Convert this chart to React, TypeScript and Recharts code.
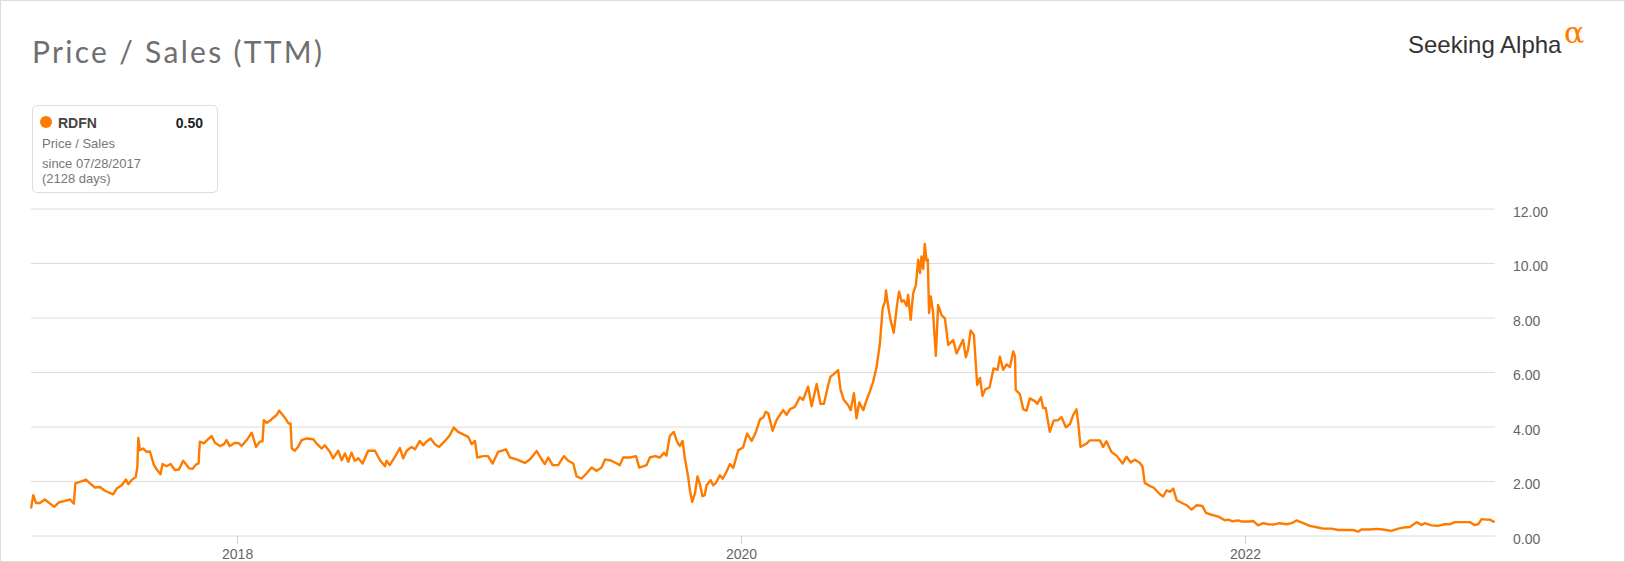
import { CartesianGrid, Line, LineChart, XAxis, YAxis } from "recharts";

const ORANGE = "#ff7b00";
const FONT = "'Liberation Sans', Arial, sans-serif";

// RDFN price / sales, [decimal year, ratio]
const ps2017: [number, number][] = [
  [2017.18, 1.01], [2017.189, 1.5], [2017.2, 1.21], [2017.215, 1.21], [2017.235, 1.34],
  [2017.255, 1.19], [2017.272, 1.07], [2017.292, 1.24], [2017.315, 1.29], [2017.335, 1.34],
  [2017.35, 1.19], [2017.356, 1.93], [2017.374, 1.99], [2017.398, 2.07], [2017.414, 1.93],
  [2017.434, 1.78], [2017.454, 1.8], [2017.473, 1.66], [2017.506, 1.53], [2017.52, 1.74],
  [2017.54, 1.86], [2017.557, 2.07], [2017.566, 1.9], [2017.579, 2.05], [2017.596, 2.17],
  [2017.602, 2.54], [2017.606, 3.6], [2017.612, 3.15], [2017.625, 3.21], [2017.639, 3.09],
  [2017.652, 3.1], [2017.668, 2.6], [2017.679, 2.44], [2017.694, 2.27], [2017.702, 2.64],
  [2017.718, 2.56], [2017.734, 2.64], [2017.751, 2.42], [2017.767, 2.44], [2017.784, 2.76],
  [2017.808, 2.48], [2017.821, 2.47], [2017.837, 2.64], [2017.845, 2.66], [2017.85, 3.46],
  [2017.866, 3.4], [2017.879, 3.52], [2017.897, 3.67], [2017.91, 3.42], [2017.93, 3.3],
  [2017.946, 3.37], [2017.956, 3.52], [2017.969, 3.3], [2017.989, 3.42],
];

const ps2018: [number, number][] = [
  [2018.006, 3.4], [2018.016, 3.3], [2018.036, 3.52], [2018.056, 3.79], [2018.073, 3.27],
  [2018.088, 3.46], [2018.099, 3.48], [2018.104, 4.25], [2018.115, 4.15], [2018.128, 4.23],
  [2018.139, 4.32], [2018.155, 4.44], [2018.165, 4.6], [2018.179, 4.44], [2018.192, 4.28],
  [2018.202, 4.13], [2018.21, 4.13], [2018.215, 3.21], [2018.227, 3.13], [2018.24, 3.27],
  [2018.254, 3.52], [2018.274, 3.58], [2018.3, 3.55], [2018.313, 3.4], [2018.333, 3.21],
  [2018.346, 3.33], [2018.366, 3.09], [2018.379, 2.85], [2018.399, 3.13], [2018.413, 2.78],
  [2018.426, 3.03], [2018.439, 2.72], [2018.452, 3.06], [2018.465, 2.76], [2018.479, 2.85],
  [2018.496, 2.66], [2018.518, 3.13], [2018.545, 3.13], [2018.565, 2.78], [2018.585, 2.56],
  [2018.591, 2.76], [2018.604, 2.6], [2018.624, 2.9], [2018.644, 3.23], [2018.657, 2.85],
  [2018.671, 3.13], [2018.69, 3.27], [2018.704, 3.18], [2018.723, 3.49], [2018.737, 3.33],
  [2018.75, 3.47], [2018.766, 3.58], [2018.783, 3.37], [2018.8, 3.27], [2018.823, 3.49],
  [2018.842, 3.7], [2018.858, 3.98], [2018.875, 3.82], [2018.895, 3.73], [2018.915, 3.64],
  [2018.929, 3.37], [2018.942, 3.49], [2018.951, 2.88], [2018.975, 2.93], [2018.994, 2.93],
];

const ps2019: [number, number][] = [
  [2019.012, 2.66], [2019.034, 3.09], [2019.065, 3.18], [2019.081, 2.88], [2019.107, 2.81],
  [2019.14, 2.68], [2019.16, 2.81], [2019.187, 3.12], [2019.202, 2.88], [2019.219, 2.64],
  [2019.233, 2.88], [2019.25, 2.6], [2019.272, 2.6], [2019.295, 2.93], [2019.312, 2.76],
  [2019.332, 2.66], [2019.345, 2.19], [2019.365, 2.11], [2019.385, 2.3], [2019.405, 2.51],
  [2019.425, 2.39], [2019.444, 2.51], [2019.458, 2.81], [2019.484, 2.76], [2019.517, 2.6],
  [2019.53, 2.88], [2019.557, 2.88], [2019.581, 2.93], [2019.594, 2.51], [2019.623, 2.6],
  [2019.636, 2.88], [2019.656, 2.93], [2019.676, 2.88], [2019.692, 3.05], [2019.702, 2.95],
  [2019.715, 3.67], [2019.731, 3.82], [2019.744, 3.46], [2019.755, 3.3], [2019.766, 3.49],
  [2019.775, 2.85], [2019.788, 2.17], [2019.795, 1.68], [2019.804, 1.25], [2019.815, 1.56],
  [2019.825, 2.19], [2019.834, 1.92], [2019.845, 1.46], [2019.854, 1.5], [2019.861, 1.86],
  [2019.877, 2.05], [2019.887, 1.86], [2019.898, 1.95], [2019.914, 2.23], [2019.925, 2.1],
  [2019.94, 2.36], [2019.954, 2.64], [2019.967, 2.5], [2019.987, 3.15],
];

const ps2020: [number, number][] = [
  [2020.006, 3.25], [2020.022, 3.76], [2020.04, 3.49], [2020.057, 3.82], [2020.073, 4.28],
  [2020.086, 4.35], [2020.096, 4.56], [2020.106, 4.5], [2020.123, 3.86], [2020.139, 4.26],
  [2020.152, 4.44], [2020.165, 4.62], [2020.179, 4.45], [2020.192, 4.65], [2020.211, 4.74],
  [2020.231, 5.09], [2020.244, 5.0], [2020.264, 5.48], [2020.278, 4.76], [2020.298, 5.58],
  [2020.313, 4.85], [2020.327, 4.85], [2020.344, 5.55], [2020.353, 5.85], [2020.366, 5.94],
  [2020.383, 6.09], [2020.393, 5.36], [2020.406, 4.99], [2020.423, 4.8], [2020.433, 4.62],
  [2020.446, 5.24], [2020.456, 4.32], [2020.467, 4.9], [2020.483, 4.62], [2020.496, 4.99],
  [2020.509, 5.3], [2020.522, 5.66], [2020.536, 6.21], [2020.549, 7.07], [2020.56, 8.36],
  [2020.569, 8.6], [2020.573, 9.01], [2020.582, 8.42], [2020.591, 7.93], [2020.604, 7.46],
  [2020.617, 8.48], [2020.625, 8.97], [2020.635, 8.6], [2020.644, 8.65], [2020.655, 8.44],
  [2020.661, 8.85], [2020.671, 7.93], [2020.681, 8.9], [2020.692, 9.22], [2020.701, 10.14],
  [2020.708, 9.65], [2020.714, 10.26], [2020.721, 9.8], [2020.727, 10.72], [2020.734, 10.1],
  [2020.739, 10.15], [2020.744, 8.18], [2020.751, 8.79], [2020.76, 8.18], [2020.771, 6.61],
  [2020.78, 8.48], [2020.794, 8.1], [2020.807, 7.99], [2020.82, 7.01], [2020.84, 7.19],
  [2020.853, 6.7], [2020.866, 6.95], [2020.879, 7.2], [2020.89, 6.56], [2020.899, 6.85],
  [2020.909, 7.54], [2020.922, 7.38], [2020.935, 5.54], [2020.946, 5.8], [2020.956, 5.14],
  [2020.967, 5.38], [2020.984, 5.45],
];

const ps2021: [number, number][] = [
  [2021.0, 6.15], [2021.016, 6.1], [2021.025, 6.58], [2021.038, 6.1], [2021.052, 6.3],
  [2021.065, 6.2], [2021.078, 6.77], [2021.085, 6.6], [2021.088, 5.36], [2021.104, 5.21],
  [2021.118, 4.65], [2021.131, 4.6], [2021.144, 5.05], [2021.164, 4.95], [2021.173, 4.85],
  [2021.188, 5.09], [2021.197, 4.7], [2021.207, 4.7], [2021.223, 3.82], [2021.239, 4.24],
  [2021.256, 4.25], [2021.27, 4.36], [2021.287, 3.99], [2021.303, 4.1], [2021.316, 4.44],
  [2021.329, 4.65], [2021.336, 4.15], [2021.345, 3.27], [2021.357, 3.33], [2021.369, 3.39],
  [2021.382, 3.51], [2021.402, 3.51], [2021.422, 3.51], [2021.435, 3.27], [2021.448, 3.48],
  [2021.468, 3.08], [2021.488, 2.95], [2021.512, 2.66], [2021.528, 2.91], [2021.544, 2.7],
  [2021.561, 2.8], [2021.58, 2.69], [2021.591, 2.55], [2021.6, 1.95], [2021.617, 1.85],
  [2021.636, 1.77], [2021.66, 1.53], [2021.673, 1.45], [2021.687, 1.68], [2021.7, 1.62],
  [2021.713, 1.74], [2021.727, 1.31], [2021.746, 1.22], [2021.766, 1.13], [2021.786, 0.97],
  [2021.806, 1.13], [2021.829, 1.1], [2021.843, 0.85], [2021.865, 0.78], [2021.892, 0.71],
  [2021.918, 0.58], [2021.931, 0.6], [2021.949, 0.54], [2021.971, 0.57], [2021.984, 0.53],
];

const ps2022: [number, number][] = [
  [2022.017, 0.53], [2022.03, 0.55], [2022.05, 0.39], [2022.07, 0.47], [2022.09, 0.43],
  [2022.11, 0.42], [2022.136, 0.47], [2022.163, 0.43], [2022.183, 0.47], [2022.202, 0.57],
  [2022.229, 0.47], [2022.255, 0.37], [2022.282, 0.32], [2022.308, 0.27], [2022.341, 0.27],
  [2022.368, 0.22], [2022.401, 0.22], [2022.427, 0.22], [2022.447, 0.16], [2022.46, 0.24],
  [2022.493, 0.24], [2022.52, 0.26], [2022.546, 0.24], [2022.579, 0.19], [2022.606, 0.27],
  [2022.626, 0.31], [2022.652, 0.33], [2022.679, 0.51], [2022.699, 0.41], [2022.711, 0.47],
  [2022.738, 0.39], [2022.764, 0.37], [2022.79, 0.43], [2022.81, 0.43], [2022.83, 0.51],
  [2022.864, 0.51], [2022.89, 0.51], [2022.91, 0.4], [2022.923, 0.43], [2022.937, 0.62],
  [2022.956, 0.6], [2022.969, 0.6], [2022.989, 0.51],
];

const yTicks = [0, 2, 4, 6, 8, 10, 12];
const yearTicks = [2018, 2020, 2022];
const xDomain: [number, number] = [2017.18, 2022.99];

const data = [...ps2017, ...ps2018, ...ps2019, ...ps2020, ...ps2021, ...ps2022].map(
  ([t, v]) => ({ t, v })
);

function YTick({ x, y, payload }: any) {
  return (
    <text x={x} y={y + 3} dy="0.355em" fill="#666" fontSize={14} fontFamily={FONT}>
      {Number(payload.value).toFixed(2)}
    </text>
  );
}

function XTick({ x, y, payload }: any) {
  return (
    <text x={x} y={y} dy="0.71em" textAnchor="middle" fill="#666" fontSize={14} fontFamily={FONT}>
      {payload.value}
    </text>
  );
}

const abs = (style: React.CSSProperties): React.CSSProperties => ({
  position: "absolute",
  margin: 0,
  whiteSpace: "nowrap",
  ...style,
});

export default function App() {
  return (
    <div style={{ position: "relative", width: 1625, height: 562, background: "#fff", overflow: "hidden" }}>
      <style>{"body{margin:0}"}</style>

      <LineChart
        width={1625}
        height={562}
        data={data}
        margin={{ top: 209, right: 30, bottom: 0, left: 31 }}
        style={{ position: "absolute", left: 0, top: 0 }}
      >
        <CartesianGrid vertical={false} stroke="#dcdcdc" />
        <XAxis
          dataKey="t"
          type="number"
          domain={xDomain}
          ticks={yearTicks}
          height={26}
          axisLine={false}
          tickLine={{ stroke: "#ccc" }}
          tickSize={8}
          tickMargin={5}
          tick={<XTick />}
        />
        <YAxis
          orientation="right"
          domain={[0, 12]}
          ticks={yTicks}
          width={100}
          axisLine={false}
          tickLine={false}
          tickSize={6}
          tickMargin={12}
          tick={<YTick />}
        />
        <Line
          type="linear"
          dataKey="v"
          stroke={ORANGE}
          strokeWidth={2.4}
          strokeLinejoin="round"
          dot={false}
          isAnimationActive={false}
        />
      </LineChart>

      <div
        style={abs({
          left: 32,
          top: 36,
          fontFamily: "Lato, sans-serif",
          fontSize: 30,
          lineHeight: "30px",
          letterSpacing: 2.3,
          color: "#6f6f6f",
        })}
      >
        Price / Sales (TTM)
      </div>

      <div
        style={abs({
          left: 1408,
          top: 33,
          fontFamily: FONT,
          fontSize: 24,
          lineHeight: "24px",
          color: "#333",
        })}
      >
        Seeking Alpha
      </div>
      <div
        style={abs({
          left: 1564,
          top: 18,
          fontFamily: "'DejaVu Serif', serif",
          fontSize: 30,
          lineHeight: "30px",
          color: ORANGE,
        })}
      >
        α
      </div>

      <div
        style={abs({
          left: 32,
          top: 105,
          width: 186,
          height: 88,
          boxSizing: "border-box",
          border: "1px solid #ddd",
          borderRadius: 5,
        })}
      />
      <div
        style={abs({
          left: 40,
          top: 116,
          width: 12,
          height: 12,
          borderRadius: "50%",
          background: ORANGE,
        })}
      />
      <div style={abs({ left: 58, top: 116, fontFamily: FONT, fontSize: 14, lineHeight: "14px", fontWeight: 700, color: "#444" })}>
        RDFN
      </div>
      <div style={abs({ left: 150, width: 53, top: 116, textAlign: "right", fontFamily: FONT, fontSize: 14, lineHeight: "14px", fontWeight: 700, color: "#222" })}>
        0.50
      </div>
      <div style={abs({ left: 42, top: 137, fontFamily: FONT, fontSize: 13, lineHeight: "13px", color: "#777" })}>
        Price / Sales
      </div>
      <div style={abs({ left: 42, top: 157, fontFamily: FONT, fontSize: 13, lineHeight: "13px", color: "#777" })}>
        since 07/28/2017
      </div>
      <div style={abs({ left: 42, top: 171.5, fontFamily: FONT, fontSize: 13, lineHeight: "13px", color: "#777" })}>
        (2128 days)
      </div>

      <div
        style={abs({
          left: 0,
          top: 0,
          width: 1625,
          height: 562,
          boxSizing: "border-box",
          border: "1px solid #ddd",
          pointerEvents: "none",
        })}
      />
    </div>
  );
}
